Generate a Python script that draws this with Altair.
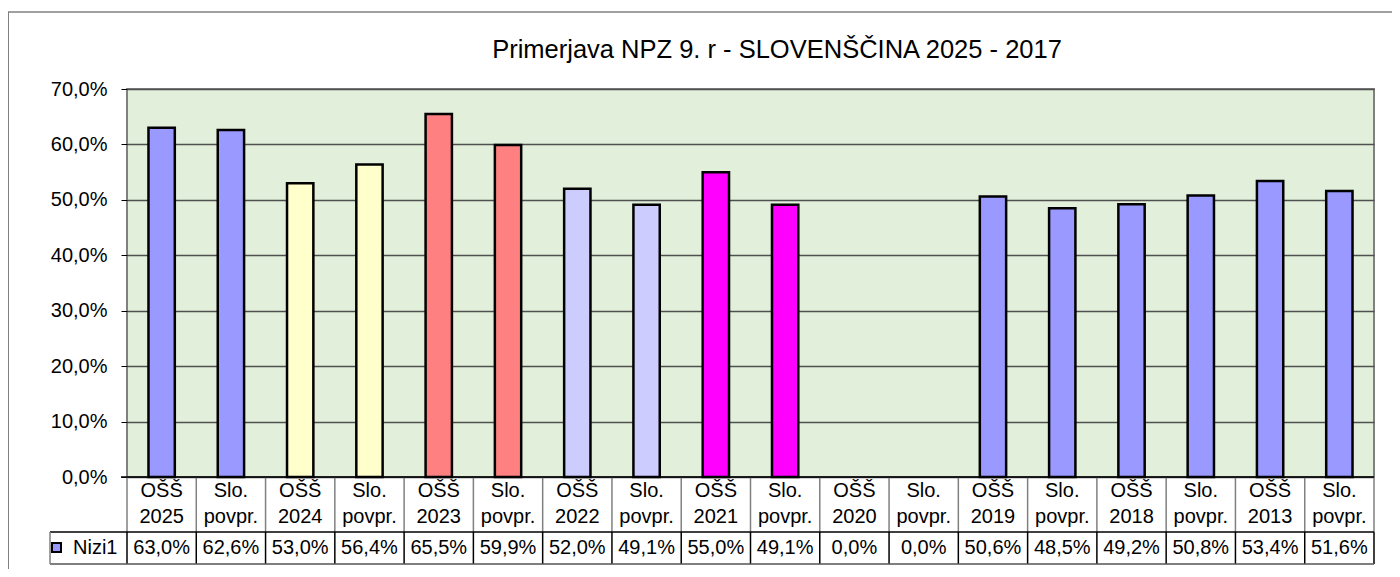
import altair as alt
import pandas as pd

# ---- data ----
categories = ["OŠŠ 2025", "Slo. povpr.", "OŠŠ 2024", "Slo. povpr.", "OŠŠ 2023", "Slo. povpr.",
              "OŠŠ 2022", "Slo. povpr.", "OŠŠ 2021", "Slo. povpr.", "OŠŠ 2020", "Slo. povpr.",
              "OŠŠ 2019", "Slo. povpr.", "OŠŠ 2018", "Slo. povpr.", "OŠŠ 2013", "Slo. povpr."]
years = ["2025", "2025", "2024", "2024", "2023", "2023", "2022", "2022", "2021", "2021",
         "2020", "2020", "2019", "2019", "2018", "2018", "2013", "2013"]
values = [0.630, 0.626, 0.530, 0.564, 0.655, 0.599, 0.520, 0.491, 0.550, 0.491,
          0.000, 0.000, 0.506, 0.485, 0.492, 0.508, 0.534, 0.516]
series_name = "Nizi1"
y_ticks = [0.0, 0.1, 0.2, 0.3, 0.4, 0.5, 0.6, 0.7]
title_text = "Primerjava NPZ 9. r - SLOVENŠČINA 2025 - 2017"

year_domain = ["2025", "2024", "2023", "2022", "2021", "2020", "2019", "2018", "2013"]
year_colors = ["#9999FF", "#FFFFCC", "#FF8080", "#CCCCFF", "#FF00FF", "#9999FF", "#9999FF", "#9999FF", "#9999FF"]

FONT = "Liberation Sans"
W, H = 1247, 388

df = pd.DataFrame({
    "idx": list(range(len(categories))),
    "cat": categories,
    "year": years,
    "value": values,
})
df["line1"] = df["cat"].str.split(" ").str[0]
df["line2"] = df["cat"].str.split(" ").str[1]
bounds = pd.DataFrame({"b": list(range(len(categories) + 1))})
dummy = pd.DataFrame({"d": [0]})

xs = alt.Scale(domain=[0, len(categories)], nice=False, zero=False)
ys = alt.Scale(domain=[0, 0.7], nice=False)

label_expr = "replace(format(datum.value, '.1%'), '.', ',')"

bars = alt.Chart(df).transform_filter("datum.value > 0").transform_calculate(
    x0="datum.idx + 0.31", x1="datum.idx + 0.69"
).mark_bar(stroke="black", strokeWidth=2.5).encode(
    x=alt.X("x0:Q", scale=xs, axis=None),
    x2="x1:Q",
    y=alt.Y("value:Q", scale=ys, axis=alt.Axis(
        values=y_ticks, labelExpr=label_expr, title=None, domain=False,
        labelFont=FONT, labelFontSize=20, labelColor="black", labelPadding=14,
        tickColor="black", tickSize=6, tickWidth=1,
        grid=True, gridColor="#505050", gridWidth=1.4,
    )),
    y2=alt.datum(0),
    fill=alt.Fill("year:N", scale=alt.Scale(domain=year_domain, range=year_colors), legend=None),
)

txt_base = alt.Chart(df).transform_calculate(
    xc="datum.idx + 0.5",
    vtxt=label_expr,
)
line1 = txt_base.mark_text(font=FONT, fontSize=20, baseline="middle", color="black").encode(
    x=alt.X("xc:Q", scale=xs, axis=None), y=alt.value(401.5), text="line1:N")
line2 = txt_base.mark_text(font=FONT, fontSize=20, baseline="middle", color="black").encode(
    x=alt.X("xc:Q", scale=xs, axis=None), y=alt.value(427.5), text="line2:N")
vals = txt_base.mark_text(font=FONT, fontSize=20, baseline="middle", color="black").encode(
    x=alt.X("xc:Q", scale=xs, axis=None), y=alt.value(459), text="vtxt:N")

cat_seps = alt.Chart(bounds).mark_rule(color="#808080", strokeWidth=1.5).encode(
    x=alt.X("b:Q", scale=xs, axis=None), y=alt.value(388), y2=alt.value(443))
val_seps = alt.Chart(bounds).mark_rule(color="black", strokeWidth=1.5).encode(
    x=alt.X("b:Q", scale=xs, axis=None), y=alt.value(443), y2=alt.value(475))

deco = alt.Chart(dummy)
row_line = deco.mark_rule(color="black", strokeWidth=1.5).encode(
    x=alt.value(-77), x2=alt.value(W), y=alt.value(443))
bottom_line = deco.mark_rule(color="#555555", strokeWidth=1.5).encode(
    x=alt.value(-77), x2=alt.value(W), y=alt.value(475))
axis_line = deco.mark_rule(color="black", strokeWidth=1.5).encode(
    x=alt.value(-6), x2=alt.value(W), y=alt.value(388))
leg_left = deco.mark_rule(color="#808080", strokeWidth=1.5).encode(
    x=alt.value(-77), y=alt.value(443), y2=alt.value(475))
swatch = deco.mark_rect(fill="#9999FF", stroke="black", strokeWidth=2).encode(
    x=alt.value(-75), x2=alt.value(-66), y=alt.value(454), y2=alt.value(463))
leg_text = deco.mark_text(font=FONT, fontSize=20, align="left", baseline="middle", color="black").encode(
    x=alt.value(-54), y=alt.value(459), text=alt.value(series_name))
title = deco.mark_text(font=FONT, fontSize=25.5, align="center", baseline="middle", color="black").encode(
    x=alt.value(650), y=alt.value(-39), text=alt.value(title_text))
outer_top = deco.mark_rule(color="#404040", strokeWidth=1).encode(
    x=alt.value(-120), x2=alt.value(W + 30), y=alt.value(-77))
outer_left = deco.mark_rule(color="#808080", strokeWidth=2).encode(
    x=alt.value(-119), y=alt.value(-77), y2=alt.value(H + 120))

chart = alt.layer(
    outer_top, outer_left, title,
    bars, cat_seps, val_seps, row_line, bottom_line, axis_line,
    leg_left, swatch, leg_text, line1, line2, vals,
).properties(
    width=W, height=H,
    autosize=alt.AutoSizeParams(type="none"),
    padding={"left": 119, "top": 81, "right": 18, "bottom": 92},
).configure_view(
    fill="#E2EFDA", stroke="#808080", strokeWidth=2,
)

chart.save("out.html", embed_options={"renderer": "svg", "actions": False})
